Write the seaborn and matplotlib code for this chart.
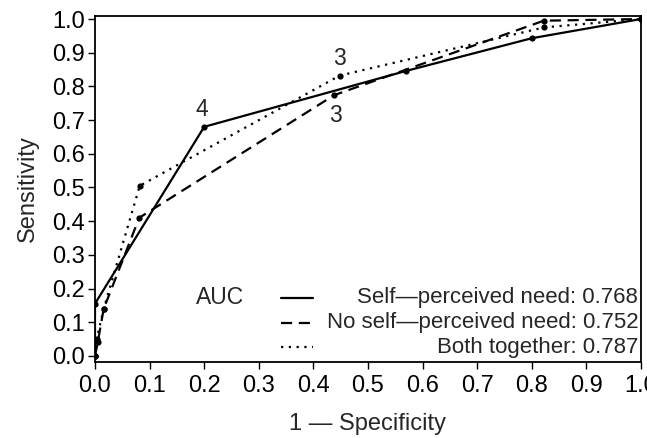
import pandas as pd
import seaborn as sns
import matplotlib.pyplot as plt

# ROC points (1 - specificity, sensitivity)
self_fpr = [0.0, 0.0, 0.2, 0.57, 0.8, 1.0]
self_tpr = [0.0, 0.155, 0.68, 0.846, 0.943, 1.0]

noself_fpr = [0.0, 0.005, 0.016, 0.081, 0.438, 0.822, 1.0]
noself_tpr = [0.0, 0.04, 0.14, 0.41, 0.774, 0.995, 1.0]

both_fpr = [0.0, 0.003, 0.016, 0.082, 0.448, 0.822, 1.0]
both_tpr = [0.0, 0.05, 0.14, 0.505, 0.832, 0.975, 1.0]

curve_names = ["Self-perceived need", "No self-perceived need", "Both together"]
auc_values = [0.768, 0.752, 0.787]
legend_labels = ["Self\u2014perceived need", "No self\u2014perceived need", "Both together"]

# cutoff labels next to selected points: (curve, point index, text)
cut_labels = [(0, 2, "4"), (1, 4, "3"), (2, 4, "3")]

frames = []
for name, fx, fy in zip(curve_names, [self_fpr, noself_fpr, both_fpr], [self_tpr, noself_tpr, both_tpr]):
    d = pd.DataFrame({"fpr": fx, "tpr": fy})
    d["curve"] = name
    frames.append(d)
df = pd.concat(frames, ignore_index=True)

sns.set_style("ticks")
plt.rcParams["font.family"] = ["Liberation Sans", "DejaVu Sans"]
FS = 17

fig = plt.figure(figsize=(6.47, 4.38), dpi=100)
ax = fig.add_axes([0.1468, 0.1735, 0.8439, 0.790])

dash_map = {curve_names[0]: "", curve_names[1]: (5, 3), curve_names[2]: (1, 2.5)}
sns.lineplot(data=df, x="fpr", y="tpr", style="curve", dashes=dash_map,
             markers={n: "o" for n in curve_names}, color="black",
             estimator=None, sort=False, legend=False, lw=1.6,
             markersize=4.5, markeredgewidth=0, ax=ax)

ax.set_xlim(0, 1)
ax.set_ylim(-0.018, 1.009)
ax.set_xticks([i / 10 for i in range(11)])
ax.set_yticks([i / 10 for i in range(11)])
ax.set_xticklabels([f"{i / 10:.1f}" for i in range(11)])
ax.set_yticklabels([f"{i / 10:.1f}" for i in range(11)])
ax.tick_params(labelsize=FS, length=5, width=1, colors="black")
ax.tick_params(axis="x", pad=4)
ax.tick_params(axis="y", pad=2)
for s in ax.spines.values():
    s.set_visible(True)
    s.set_linewidth(1.3)
    s.set_color("black")

ax.set_xlabel("1 \u2014 Specificity", fontsize=FS, labelpad=12)
ax.set_ylabel("Sensitivity", fontsize=FS, labelpad=10)

# cutoff numbers
all_x = [self_fpr, noself_fpr, both_fpr]
all_y = [self_tpr, noself_tpr, both_tpr]
offsets = {0: (-0.005, 0.05), 1: (0.003, -0.06), 2: (0.0, 0.05)}
for ci, pi, txt in cut_labels:
    dx, dy = offsets[ci]
    ax.text(all_x[ci][pi] + dx, all_y[ci][pi] + dy, txt, fontsize=FS - 0.5,
            ha="center", va="center")

# AUC legend block
ax.text(0.185, 0.172, "AUC", fontsize=16.5, ha="left", va="center")
row_y = [0.172, 0.099, 0.026]
styles = ["-", (0, (5, 3)), (0, (1, 2.5))]
for yy, st, lab, auc in zip(row_y, styles, legend_labels, auc_values):
    ax.plot([0.34, 0.40], [yy, yy], color="black", lw=1.6, linestyle=st)
    ax.text(0.995, yy, f"{lab}: {auc:.3f}", fontsize=16, ha="right", va="center")

fig.savefig("out.png", dpi=100)
